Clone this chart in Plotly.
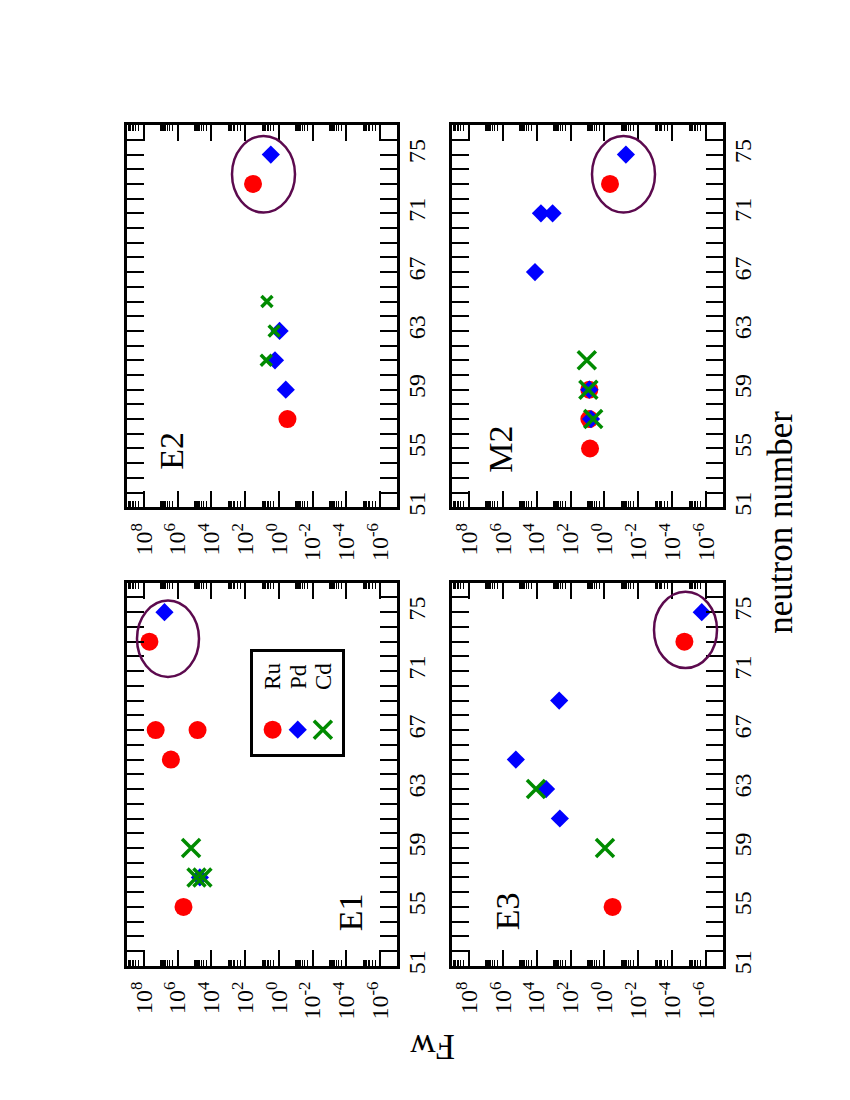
import plotly.graph_objects as go

# Figura rotada (paisaje girado 90 grados), como en el original
FONT = "Liberation Serif"
# la pagina html deja 8 px de margen en el body
MARGEN = 8
W, H = 850 - 2 * MARGEN, 1100 - 2 * MARGEN

especies = ["Ru", "Pd", "Cd"]
colores = {"Ru": "#ff0000", "Pd": "#0000ff", "Cd": "#008b00"}

# E1
e1_ru_n = [55, 65, 67, 67, 73]
e1_ru_fw = [4.5e5, 2.5e6, 2.0e7, 6.6e4, 4.7e7]
e1_pd_n = [57, 75]
e1_pd_fw = [4.8e4, 6.0e6]
e1_cd_n = [57, 57, 59]
e1_cd_fw = [7.6e4, 3.4e4, 1.6e5]

# E2
e2_ru_n = [57, 73]
e2_ru_fw = [0.31, 34]
e2_pd_n = [59, 61, 63, 75]
e2_pd_fw = [0.39, 1.7, 0.91, 3.0]
e2_cd_n = [61, 63, 65]
e2_cd_fw = [5.6, 1.9, 5.1]

# E3
e3_ru_n = [55, 73]
e3_ru_fw = [0.33, 1.9e-5]
e3_pd_n = [61, 63, 65, 69, 75]
e3_pd_fw = [430, 2800, 1.7e5, 470, 1.8e-6]
e3_cd_n = [59, 63]
e3_cd_fw = [0.93, 1.1e4]

# M2
m2_ru_n = [55, 57, 59, 73]
m2_ru_fw = [7.1, 7.8, 7.8, 0.47]
m2_pd_n = [57, 59, 67, 71, 71, 75]
m2_pd_fw = [6.2, 7.8, 1.26e4, 5600, 1150, 0.054]
m2_cd_n = [57, 59, 61]
m2_cd_fw = [4.6, 8.9, 11]

# ejes
fw_ticks = [1e8, 1e6, 1e4, 1e2, 1e0, 1e-2, 1e-4, 1e-6]
fw_ticktext = ["10<sup>8</sup>", "10<sup>6</sup>", "10<sup>4</sup>", "10<sup>2</sup>",
               "10<sup>0</sup>", "10<sup>-2</sup>", "10<sup>-4</sup>", "10<sup>-6</sup>"]
fw_minor = [k * 10.0 ** e for e in [8, 6, 4, 2, 0, -2, -4, -6] for k in range(2, 11)]
n_ticks = [51, 55, 59, 63, 67, 71, 75]


#Pasando pixeles de la imagen a coordenadas paper
def px_x(x):
    return (x - MARGEN) / W


def px_y(y):
    return 1 - (y - MARGEN) / H


# columna izquierda de la imagen = fila de arriba del original
col_izq = [px_x(127), px_x(397)]
col_der = [px_x(452), px_x(723)]
fila_arr = [px_y(511), px_y(126)]
fila_abj = [px_y(973), px_y(587)]

paneles = [
    dict(nombre="E1", dx=col_izq, dy=fila_abj, etiqueta=(350, 919), elipse=(137, 605, 199, 682), xsize=18,
         datos={"Ru": (e1_ru_n, e1_ru_fw), "Pd": (e1_pd_n, e1_pd_fw), "Cd": (e1_cd_n, e1_cd_fw)}),
    dict(nombre="E2", dx=col_izq, dy=fila_arr, etiqueta=(172, 454), elipse=(232, 137, 295, 214), xsize=11,
         datos={"Ru": (e2_ru_n, e2_ru_fw), "Pd": (e2_pd_n, e2_pd_fw), "Cd": (e2_cd_n, e2_cd_fw)}),
    dict(nombre="E3", dx=col_der, dy=fila_abj, etiqueta=(507, 918), elipse=(654, 596, 717, 673), xsize=18,
         datos={"Ru": (e3_ru_n, e3_ru_fw), "Pd": (e3_pd_n, e3_pd_fw), "Cd": (e3_cd_n, e3_cd_fw)}),
    dict(nombre="M2", dx=col_der, dy=fila_arr, etiqueta=(501, 453), elipse=(592, 137, 655, 214), xsize=18,
         datos={"Ru": (m2_ru_n, m2_ru_fw), "Pd": (m2_pd_n, m2_pd_fw), "Cd": (m2_cd_n, m2_cd_fw)}),
]


def estilo(sp, xsize):
    if sp == "Ru":
        return dict(symbol="circle", size=18, color=colores[sp], line=dict(width=0))
    if sp == "Pd":
        return dict(symbol="diamond", size=14, color=colores[sp], line=dict(width=0))
    return dict(symbol="x-thin", size=xsize, color=colores[sp],
                line=dict(width=3.5, color=colores[sp]))


fig = go.Figure()
layout = dict(
    width=W, height=H,
    margin=dict(l=0, r=0, t=0, b=0),
    paper_bgcolor="white", plot_bgcolor="white",
    showlegend=False,
    font=dict(family=FONT, color="black", size=22),
)
shapes = []
annotations = []

for i, p in enumerate(paneles, start=1):
    sfx = "" if i == 1 else str(i)
    for sp in especies:
        n, fw = p["datos"][sp]
        fig.add_trace(go.Scatter(x=fw, y=n, mode="markers", name=sp,
                                 marker=estilo(sp, p["xsize"]),
                                 xaxis="x" + sfx, yaxis="y" + sfx))
    layout["xaxis" + sfx] = dict(
        type="log", range=[9, -7], domain=p["dx"], anchor="y" + sfx,
        showline=True, linewidth=3.3, linecolor="black", mirror="ticks",
        ticks="inside", ticklen=16, tickwidth=2, tickcolor="black",
        tickmode="array", tickvals=fw_ticks, ticktext=fw_ticktext,
        tickangle=-90, tickfont=dict(size=24), ticklabelstandoff=3,
        minor=dict(tickmode="array", tickvals=fw_minor, ticks="inside",
                   ticklen=6, tickwidth=1.3, tickcolor="black"),
        showgrid=False, zeroline=False,
    )
    layout["yaxis" + sfx] = dict(
        range=[51, 77], domain=p["dy"], anchor="x" + sfx, side="right",
        showline=True, linewidth=3.3, linecolor="black", mirror="ticks",
        tickmode="array", tickvals=n_ticks,
        ticks="inside", ticklen=17, tickwidth=2, tickcolor="black",
        tickangle=-90, tickfont=dict(size=24), ticklabelstandoff=-4,
        minor=dict(dtick=1, tick0=51, ticks="inside", ticklen=17, tickwidth=2, tickcolor="black"),
        showgrid=False, zeroline=False,
    )
    x0, y0, x1, y1 = p["elipse"]
    shapes.append(dict(type="circle", xref="paper", yref="paper",
                       x0=px_x(x0), x1=px_x(x1), y0=px_y(y1), y1=px_y(y0),
                       line=dict(color="#5c0a4e", width=2.5)))
    lx, ly = p["etiqueta"]
    annotations.append(dict(text=p["nombre"], x=px_x(lx), y=px_y(ly), xref="paper", yref="paper",
                            textangle=-90, showarrow=False, xanchor="center", yanchor="middle",
                            font=dict(size=34)))

# leyenda dentro de E1, hecha con un eje propio (el texto va girado)
for sp in especies:
    fig.add_trace(go.Scatter(x=[sp], y=[0], mode="markers", marker=estilo(sp, 18),
                             xaxis="x5", yaxis="y5", hoverinfo="skip"))
    annotations.append(dict(text=sp, x=sp, y=0.69, xref="x5", yref="y5", textangle=-90,
                            showarrow=False, font=dict(size=23)))
layout["xaxis5"] = dict(domain=[px_x(253), px_x(342)], anchor="y5", type="category",
                        categoryorder="array", categoryarray=especies, range=[-0.78, 2.76],
                        showline=True, linewidth=3, linecolor="black", mirror=True,
                        showticklabels=False, ticks="", showgrid=False, zeroline=False)
layout["yaxis5"] = dict(domain=[px_y(760), px_y(657)], anchor="x5", range=[-0.32, 1],
                        showline=True, linewidth=3, linecolor="black", mirror=True,
                        showticklabels=False, ticks="", showgrid=False, zeroline=False)

# titulos de ejes
annotations.append(dict(text="neutron number", x=px_x(802), y=px_y(526), xref="paper", yref="paper",
                        textangle=-90, showarrow=False, font=dict(size=35)))
annotations.append(dict(text="Fw", x=px_x(432), y=px_y(1076), xref="paper", yref="paper",
                        textangle=180, showarrow=False, font=dict(size=35)))

layout["shapes"] = shapes
layout["annotations"] = annotations
fig.update_layout(**layout)
fig.write_html("out.html")
